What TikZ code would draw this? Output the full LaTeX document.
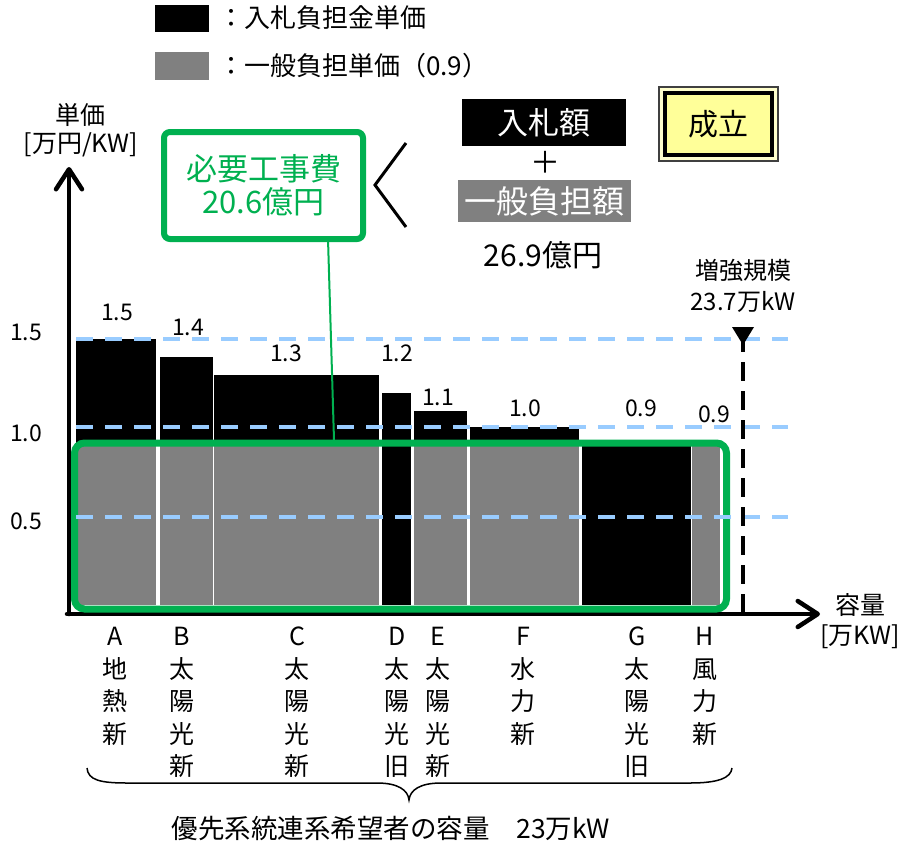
\documentclass[tikz,border=0pt]{standalone}
\usepackage{fontspec}
\setmainfont{Noto Sans CJK JP}
\usetikzlibrary{arrows.meta}
\definecolor{bargray}{HTML}{808080}
\definecolor{dashblue}{HTML}{99CCFF}
\definecolor{boxgreen}{HTML}{00B050}
\definecolor{okyellow}{HTML}{FFFF99}
\newcommand\fsz[1]{\fontsize{#1}{#1}\selectfont}
\tikzset{
  txt/.style={inner sep=0pt, text=black},
  axisline/.style={line width=4.5pt, -{Straight Barb[length=20pt,width=26pt,round]}, line cap=round},
  guide/.style={dashblue, line width=4pt, dash pattern=on 17pt off 12pt},
  blackbar/.style={fill=black, draw=none},
  graybar/.style={fill=bargray, draw=none},
  catlab/.style={inner sep=0pt, align=center, font=\fsz{25}, anchor=north},
  barlab/.style={inner sep=0pt, font=\fsz{23}},
}
\begin{document}
\begin{tikzpicture}[x=1pt,y=-1pt]
\useasboundingbox (0,0) rectangle (899,844);

% legend
\node[fill=black, minimum width=54, minimum height=27, inner sep=0] (legblack) at (182,18.5) {};
\node[fill=bargray, minimum width=54, minimum height=28, inner sep=0] (leggray) at (182,66) {};
\node[txt, anchor=west, font=\fsz{26}] (legtxt1) at (218,18) {：入札負担金単価};
\node[txt, anchor=west, font=\fsz{26}] (legtxt2) at (218,66) {：一般負担単価（0.9）};

% bars: black part
\foreach \xa/\xb/\top in {76/156/339, 160/213/357, 214/379/375, 382/411/393, 414/467/411, 470/579/427, 582/691/446}
  \fill[blackbar] (\xa,\top) rectangle (\xb,605);
% gray parts
\foreach \xa/\xb in {76/156, 160/213, 214/379, 414/467, 470/579, 692/720}
  \fill[graybar] (\xa,446) rectangle (\xb,605);

% axes
\coordinate (origin) at (69,614);
\coordinate (ytip) at (69,167);
\coordinate (xtip) at (820,614);
\draw[axisline] (origin) -- (ytip);
\draw[axisline] ([xshift=-2pt]origin) -- (xtip);

% big green box
\node[draw=boxgreen, line width=7pt, rounded corners=10pt, minimum width=652, minimum height=166, inner sep=0] (greenbox) at (400.5,526) {};

% guide lines
\foreach \yy in {339,427,517}
  \draw[guide] (76,\yy) -- (788,\yy);

% axis labels
\node[txt, font=\fsz{25}] (ylab1) at (80,115) {単価};
\node[txt, font=\fsz{25}] (ylab2) at (81,145) {[万円/KW]};
\node[txt, font=\fsz{25}] (xlab1) at (860,605) {容量};
\node[txt, font=\fsz{25}] (xlab2) at (860,637) {[万KW]};

% y tick labels
\node[barlab] (t15) at (26,332) {1.5};
\node[barlab] (t10) at (26,433) {1.0};
\node[barlab] (t05) at (26,521) {0.5};

% bar value labels
\node[barlab] (vA) at (117,312) {1.5};
\node[barlab] (vB) at (188,327) {1.4};
\node[barlab] (vC) at (286,353) {1.3};
\node[barlab] (vD) at (397,353) {1.2};
\node[barlab] (vE) at (438,397) {1.1};
\node[barlab] (vF) at (525,408) {1.0};
\node[barlab] (vG) at (641,408) {0.9};
\node[barlab] (vH) at (714,414) {0.9};

% category labels
\begin{scope}[every node/.style={catlab}]
\node (cA) at (115,627) {A\\[7.5pt]地\\[7.5pt]熱\\[7.5pt]新};
\node (cB) at (182,627) {B\\[7.5pt]太\\[7.5pt]陽\\[7.5pt]光\\[7.5pt]新};
\node (cC) at (297,627) {C\\[7.5pt]太\\[7.5pt]陽\\[7.5pt]光\\[7.5pt]新};
\node (cD) at (397,627) {D\\[7.5pt]太\\[7.5pt]陽\\[7.5pt]光\\[7.5pt]旧};
\node (cE) at (438,627) {E\\[7.5pt]太\\[7.5pt]陽\\[7.5pt]光\\[7.5pt]新};
\node (cF) at (523,627) {F\\[7.5pt]水\\[7.5pt]力\\[7.5pt]新};
\node (cG) at (637,627) {G\\[7.5pt]太\\[7.5pt]陽\\[7.5pt]光\\[7.5pt]旧};
\node (cH) at (705,627) {H\\[7.5pt]風\\[7.5pt]力\\[7.5pt]新};
\end{scope}

% brace
\draw[line width=1.5pt] (87,768) .. controls (88,780) and (100,783) .. (127,783)
  -- (377,783) .. controls (398,783) and (408,790) .. (409,800)
  .. controls (410,790) and (420,783) .. (441,783)
  -- (690,783) .. controls (718,783) and (731,778) .. (732,768);
\node[txt, font=\fsz{26.5}] (total) at (391,828) {優先系統連系希望者の容量\quad 23万kW};

% cost box
\node[draw=boxgreen, line width=6pt, rounded corners=6pt, minimum width=199, minimum height=107, inner sep=0, align=center, text=boxgreen, font=\fsz{31}] (costbox) at (263.5,185.5) {必要工事費\\[2pt]20.6億円};
\coordinate (c1) at (328,239);
\coordinate (c2) at (334,440);
\draw[boxgreen, line width=2pt] (c1) -- (c2);

% angle bracket
\coordinate (b1) at (406,143);
\coordinate (b2) at (375,185);
\coordinate (b3) at (406,227);
\draw[line width=3pt] (b1) -- (b2) -- (b3);

% amounts
\node[fill=black, text=white, minimum width=164, minimum height=47, inner sep=0, font=\fsz{31}] (bid) at (544,122.5) {入札額};
\node[txt, font=\fsz{30}] (plus) at (545,162) {＋};
\node[fill=bargray, text=white, minimum width=173, minimum height=42, inner sep=0, font=\fsz{32}] (general) at (544.5,201) {一般負担額};
\node[txt, font=\fsz{30}] (sum) at (543,255) {26.9億円};

% seiritsu
\node[draw=black!75, line width=1.5pt, fill=okyellow!50, minimum width=119, minimum height=74, inner sep=0] (okouter) at (718.5,124) {};
\node[draw=black, line width=3.5pt, fill=okyellow, minimum width=107, minimum height=62, inner sep=0, font=\fsz{30}] (okinner) at (718.5,124) {成立};

% capacity marker
\node[txt, font=\fsz{24}] (cap1) at (743,270) {増強規模};
\node[txt, font=\fsz{24}] (cap2) at (743,302) {23.7万kW};
\coordinate (tri) at (743,345);
\coordinate (vbot) at (743,612);
\fill (732,327) -- (754,327) -- (tri) -- cycle;
\draw[line width=4pt, dash pattern=on 19pt off 10pt] ([yshift=12pt]tri) -- (vbot);
\end{tikzpicture}
\end{document}
